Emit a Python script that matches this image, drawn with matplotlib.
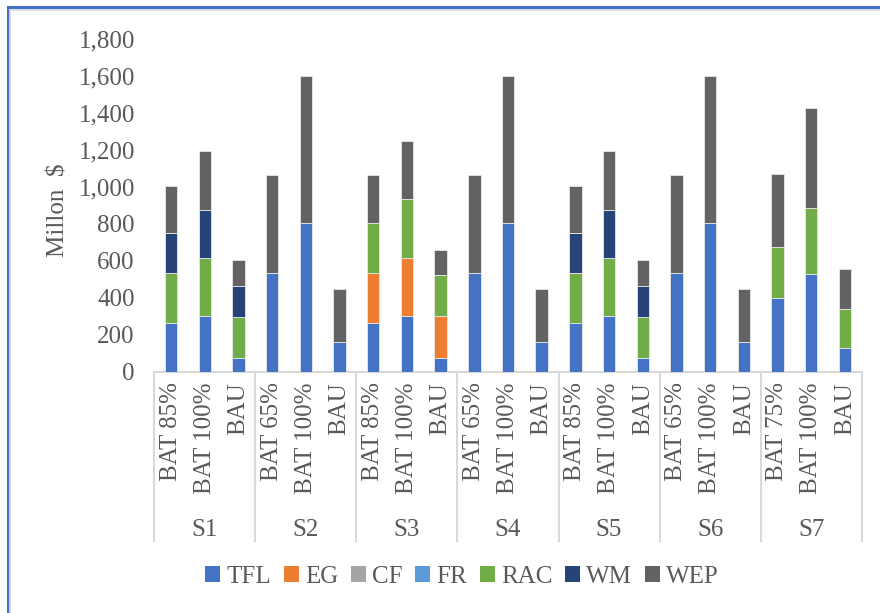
import matplotlib
matplotlib.use("Agg")
import matplotlib.pyplot as plt
from matplotlib.patches import Patch
from matplotlib.lines import Line2D
from matplotlib.ticker import FuncFormatter
import numpy as np

plt.rcParams['font.family'] = ['Liberation Serif', 'DejaVu Serif']

groups = ['S1', 'S2', 'S3', 'S4', 'S5', 'S6', 'S7']
cases = ['BAT 85%', 'BAT 100%', 'BAU',
         'BAT 65%', 'BAT 100%', 'BAU',
         'BAT 85%', 'BAT 100%', 'BAU',
         'BAT 65%', 'BAT 100%', 'BAU',
         'BAT 85%', 'BAT 100%', 'BAU',
         'BAT 65%', 'BAT 100%', 'BAU',
         'BAT 75%', 'BAT 100%', 'BAU']

# cost components, million $
tfl = [265, 305, 77, 532, 803, 164, 265, 305, 77, 532, 803, 164,
       265, 305, 77, 532, 803, 164, 401, 531, 131]
eg = [0, 0, 0, 0, 0, 0, 268, 311, 227, 0, 0, 0,
      0, 0, 0, 0, 0, 0, 0, 0, 0]
cf = [0] * 21
fr = [0] * 21
rac = [270, 312, 218, 0, 0, 0, 270, 319, 218, 0, 0, 0,
       270, 312, 218, 0, 0, 0, 272, 356, 208]
wm = [215, 260, 171, 0, 0, 0, 0, 0, 0, 0, 0, 0,
      215, 260, 171, 0, 0, 0, 0, 0, 0]
wep = [256, 317, 140, 531, 797, 283, 260, 312, 138, 531, 797, 283,
       256, 317, 140, 531, 797, 283, 396, 538, 216]

series = [('TFL', tfl, '#4472C4'), ('EG', eg, '#ED7D31'), ('CF', cf, '#A5A5A5'),
          ('FR', fr, '#5B9BD5'), ('RAC', rac, '#70AD47'), ('WM', wm, '#264478'),
          ('WEP', wep, '#636363')]

FS = 18
TXT = '#595959'

W, H = 880, 613
fig = plt.figure(figsize=(8.8, 6.13), dpi=100)
ax_left, ax_right, ax_top, ax_bot = 154.3, 861.7, 38.6, 372.0
ax = fig.add_axes([ax_left / W, 1 - ax_bot / H, (ax_right - ax_left) / W, (ax_bot - ax_top) / H])

x = np.arange(len(cases))
bottom = np.zeros(len(cases))
for name, vals, col in series:
    vals = np.array(vals, dtype=float)
    ax.bar(x, vals, 0.37, bottom=bottom, color=col, edgecolor='#e8e8e8', linewidth=0.6, zorder=3)
    bottom += vals

ax.set_xlim(-0.5, len(cases) - 0.5)
ax.set_ylim(0, 1800)
ax.set_yticks(range(0, 1801, 200))
ax.yaxis.set_major_formatter(FuncFormatter(lambda v, p: f'{int(v):,}'))
ax.tick_params(axis='y', length=0, pad=14, labelsize=FS, labelcolor=TXT)
ax.set_xticks([])
for s in ax.spines.values():
    s.set_visible(False)

# two-level category axis
ax_h = ax_bot - ax_top
def yfrac(px):
    return -(px - ax_bot) / ax_h

trans = ax.get_xaxis_transform()
grid_col = '#d9d9d9'
ax.plot([-0.5, len(cases) - 0.5], [0, 0], color=grid_col, lw=1.5, transform=trans, clip_on=False)
for b in np.arange(-0.5, len(cases), 3):
    ax.plot([b, b], [0, yfrac(541)], color=grid_col, lw=1.5, transform=trans, clip_on=False)

for i, lab in enumerate(cases):
    ax.text(i, yfrac(382), lab, rotation=90, ha='center', va='top', fontsize=FS,
            color=TXT, transform=trans)
for g, name in enumerate(groups):
    ax.text(g * 3 + 1, yfrac(530), name, ha='center', va='center', fontsize=FS,
            color=TXT, transform=trans)

fig.text(59 / W, 1 - 210 / H, 'Millon  $', rotation=90, ha='center', va='center',
         fontsize=FS, color=TXT)

handles = [Patch(facecolor=c, edgecolor='none', label=n) for n, _, c in series]
fig.legend(handles=handles, loc='center', bbox_to_anchor=(462 / W, 1 - 577 / H), ncol=7,
           frameon=False, fontsize=FS, labelcolor=TXT, handlelength=0.6,
           handleheight=0.6, handletextpad=0.25, columnspacing=0.5)

# chart border (top and left edges)
fig.add_artist(Line2D([7.5 / W, 7.5 / W], [0, 1 - 7 / H], color='#4472C4', lw=2.2))
fig.add_artist(Line2D([7.5 / W, 1], [1 - 7 / H, 1 - 7 / H], color='#4472C4', lw=2.2))
fig.add_artist(Line2D([10 / W, 1], [1 - 9.5 / H, 1 - 9.5 / H], color='#d9d9d9', lw=1.2))
fig.add_artist(Line2D([10 / W, 10 / W], [0, 1 - 9.5 / H], color='#d9d9d9', lw=1.2))

fig.savefig('out.png', dpi=100)
